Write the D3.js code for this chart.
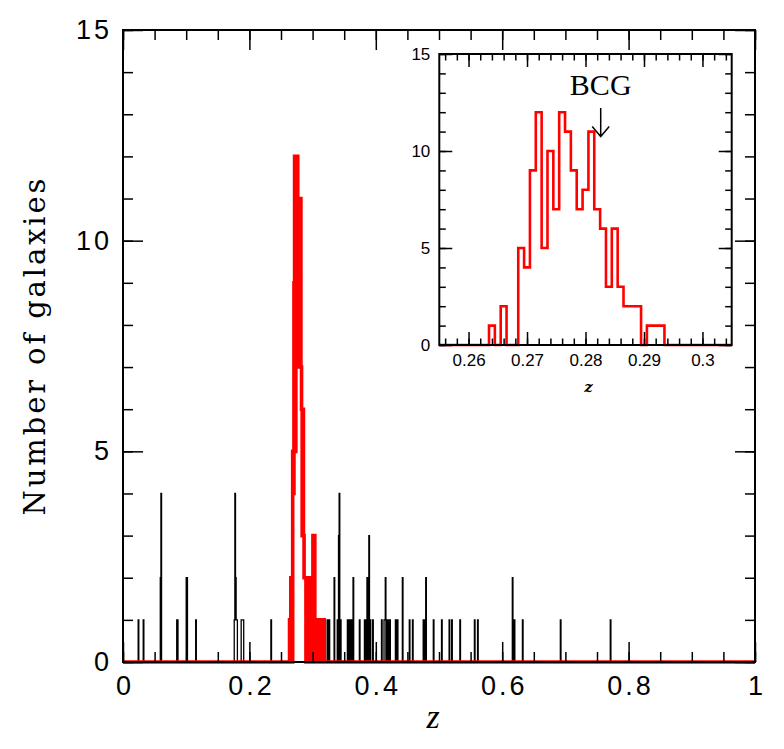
<!DOCTYPE html>
<html>
<head>
<meta charset="utf-8">
<script src="https://cdn.jsdelivr.net/npm/d3@7"></script>
<style>
  body { margin: 0; background: #fff; }
  svg { display: block; }
</style>
</head>
<body>
<svg id="chart" width="784" height="749"></svg>
<script>
// bin width of both histograms
const binW = 0.001;

// cluster members (red), counts per 0.001 bin starting at z = 0.2635
const memberStart = 0.2635;
const memberCounts = [1,0,2,0,0,5,4,9,12,5,10,7,12,11,9,7,8,11,7,6,3,6,3,2,2,2,0,1,1,1];
// extra red members only seen in the big panel (continuing the bins above)
const memberTail = [1,2,0,2,2,1,0,3,3,3,1,0,1,1,0,1,1,0,1,1,0,1,1,0,1];

// field galaxies (black), left edge of bin and count
const fieldZ = [0.024,0.032,0.059,0.060,0.085,0.086,0.100,0.101,0.115,
  0.176,0.177,0.178,0.179,0.180,0.187,0.188,0.189,0.190,0.234,
  0.323,0.326,0.334,0.339,0.341,0.342,0.344,
  0.355,0.356,0.358,0.360,0.362,0.364,0.374,0.382,0.385,0.386,0.389,0.391,0.395,
  0.409,0.413,0.414,0.415,0.418,0.420,0.422,0.431,0.434,0.442,0.453,0.458,
  0.475,0.477,0.479,0.491,0.504,0.516,0.520,0.533,0.556,0.561,
  0.616,0.619,0.632,0.692,0.771];
const fieldN = [1,1,2,4,1,1,2,2,1,
  1,4,2,1,1,1,1,1,1,1,
  1,1,2,1,3,4,1,
  1,1,1,1,1,2,1,1,1,2,3,1,1,
  1,1,1,2,1,1,1,1,1,2,1,1,
  1,1,2,1,1,1,1,1,1,1,
  2,1,1,1,1];

const mainXTicks = [0, 0.2, 0.4, 0.6, 0.8, 1];
const mainYTicks = [0, 5, 10, 15];
const insetXTicks = [0.26, 0.27, 0.28, 0.29, 0.30];
const insetYTicks = [0, 5, 10, 15];
const bcgZ = 0.2826;

const svg = d3.select("#chart");

// ---------- main panel ----------
const x = d3.scaleLinear().domain([0, 1]).range([123, 755]);
const y = d3.scaleLinear().domain([0, 15]).range([662, 30]);

// turn bins into step points
const stepPts = (start, counts, d0, d1) => {
  const pts = [[d0, 0]];
  counts.forEach((c, i) => pts.push([start + i * binW, c]));
  pts.push([start + counts.length * binW, 0]);
  pts.push([d1, 0]);
  return pts;
};

// dense field histogram on [0,1]
const fieldCounts = new Array(1000).fill(0);
fieldZ.forEach((z, i) => { fieldCounts[Math.round(z / binW)] += fieldN[i]; });

const line = (sx, sy) => d3.line()
  .x(d => sx(d[0]))
  .y(d => sy(d[1]))
  .curve(d3.curveStepAfter);

svg.append("path")
  .attr("d", line(x, y)(stepPts(0, fieldCounts, 0, 1)))
  .attr("fill", "none")
  .attr("stroke", "#000")
  .attr("stroke-width", 1.3);

svg.append("path")
  .attr("d", line(x, y)(stepPts(memberStart, memberCounts.concat(memberTail), 0, 1)))
  .attr("fill", "none")
  .attr("stroke", "#ff0000")
  .attr("stroke-width", 3.6);

// axes with inward ticks on all four sides
const drawAxes = (sx, sy, opt) => {
  const g = svg.append("g");
  const [x0, x1] = sx.range();
  const [y0, y1] = sy.range();
  const mk = (axis, tr, ticks, size, fmt) => {
    const a = g.append("g").attr("transform", tr)
      .call(axis.tickValues(ticks).tickSize(-size).tickPadding(opt.pad).tickFormat(fmt));
    a.select(".domain").remove();
    a.selectAll("line").attr("stroke-width", opt.tw);
    a.selectAll("text").attr("font-family", "'Liberation Sans', Arial, sans-serif")
      .attr("font-size", opt.fs).attr("fill", "#000")
      .attr("letter-spacing", opt.ls);
    return a;
  };
  const noLab = () => "";
  // minor
  mk(d3.axisBottom(sx), `translate(0,${y0})`, opt.xMinor, opt.minor, noLab);
  mk(d3.axisTop(sx), `translate(0,${y1})`, opt.xMinor, opt.minor, noLab);
  mk(d3.axisLeft(sy), `translate(${x0},0)`, opt.yMinor, opt.minor, noLab);
  mk(d3.axisRight(sy), `translate(${x1},0)`, opt.yMinor, opt.minor, noLab);
  // major
  mk(d3.axisBottom(sx), `translate(0,${y0})`, opt.xMajor, opt.major, opt.xFmt)
    .selectAll("text").attr("dx", opt.ls / 2);
  mk(d3.axisTop(sx), `translate(0,${y1})`, opt.xMajor, opt.major, noLab);
  mk(d3.axisLeft(sy), `translate(${x0},0)`, opt.yMajor, opt.major, d3.format("d"))
    .selectAll("text").attr("dx", opt.ls);
  mk(d3.axisRight(sy), `translate(${x1},0)`, opt.yMajor, opt.major, noLab);
  g.append("rect")
    .attr("x", x0).attr("y", y1)
    .attr("width", x1 - x0).attr("height", y0 - y1)
    .attr("fill", "none").attr("stroke", "#000").attr("stroke-width", 2);
  return g;
};

drawAxes(x, y, {
  xMinor: d3.range(0, 1.0001, 0.05), yMinor: d3.range(0, 16, 1),
  xMajor: mainXTicks, yMajor: mainYTicks,
  minor: 10, major: 20, tw: 1.5, pad: 14, fs: 27, ls: 3,
  xFmt: d => d === 0 ? "0" : d === 1 ? "1" : d3.format(".1f")(d)
});

svg.append("text")
  .attr("x", 433).attr("y", 728)
  .attr("text-anchor", "middle")
  .attr("font-family", "'Liberation Serif', 'Times New Roman', serif")
  .attr("font-style", "italic")
  .attr("font-size", 34)
  .text("z");

const ylab = svg.append("text")
  .attr("transform", "translate(45,347) rotate(-90)")
  .attr("text-anchor", "middle")
  .attr("font-family", "'DejaVu Serif', serif")
  .attr("font-size", 29)
  .text("Number of galaxies");
ylab.attr("textLength", 337).attr("lengthAdjust", "spacing");

// ---------- inset ----------
const xi = d3.scaleLinear().domain([0.255, 0.305]).range([439.3, 731.7]);
const yi = d3.scaleLinear().domain([0, 15]).range([345, 54]);

svg.append("rect")
  .attr("x", 439.3).attr("y", 54).attr("width", 292.4).attr("height", 291)
  .attr("fill", "#fff");

svg.append("path")
  .attr("d", line(xi, yi)(stepPts(memberStart, memberCounts, 0.255, 0.305)))
  .attr("fill", "none")
  .attr("stroke", "#ff0000")
  .attr("stroke-width", 2.6);

drawAxes(xi, yi, {
  xMinor: d3.range(0.256, 0.3051, 0.002), yMinor: d3.range(0, 16, 1),
  xMajor: insetXTicks, yMajor: insetYTicks,
  minor: 6.5, major: 13, tw: 1.5, pad: 9, fs: 17, ls: 0,
  xFmt: d => d3.format(".2~f")(d)
});

svg.append("text")
  .attr("x", xi(0.2805)).attr("y", 392)
  .attr("text-anchor", "middle")
  .attr("font-family", "'DejaVu Serif', serif")
  .attr("font-style", "italic")
  .attr("font-weight", "bold")
  .attr("font-size", 15)
  .text("z");

// BCG marker
svg.append("text")
  .attr("x", xi(bcgZ)).attr("y", 95)
  .attr("text-anchor", "middle")
  .attr("font-family", "'Liberation Serif', 'Times New Roman', serif")
  .attr("font-size", 30)
  .text("BCG");

const ax = xi(bcgZ);
svg.append("path")
  .attr("d", `M${ax},108 L${ax},136 M${ax - 8.5},126.5 L${ax},136.5 L${ax + 8.5},126.5`)
  .attr("fill", "none")
  .attr("stroke", "#000")
  .attr("stroke-width", 1.5);
</script>
</body>
</html>
